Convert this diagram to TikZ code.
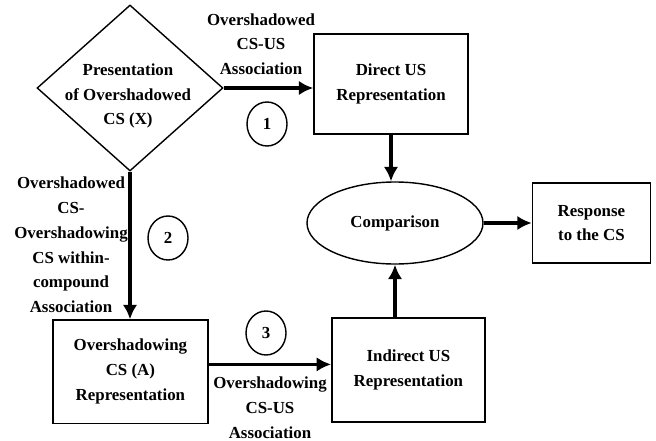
\documentclass[tikz,border=0pt]{standalone}
\usepackage{fontspec}
\setmainfont{Liberation Serif}
\usetikzlibrary{positioning,arrows.meta,shapes.geometric}

\begin{document}
\begin{tikzpicture}[every node/.style={font=\bfseries\fontsize{12}{17.6}\selectfont, align=center, inner sep=0pt},
    box/.style={draw, line width=1pt, rectangle},
    flow/.style={line width=2.2pt, -{Latex[length=3.6mm,width=3.6mm]}},
    numring/.style={draw, line width=1pt, ellipse, minimum width=1cm, minimum height=1.1cm}]
  \useasboundingbox (0,0) rectangle (16.4,-11);
  % stimulus and its two routes
  \node[diamond, draw, line width=1pt, minimum width=4.65cm, minimum height=4.15cm] (present) at (3.25,-2.2) {};
  \node (presenttxt) at (3.2,-2.4) {Presentation\\of Overshadowed\\CS (X)};
  \node[box, minimum width=3.85cm, minimum height=2.5cm] (direct) at (9.775,-2.1) {Direct US\\Representation};
  \node[box, minimum width=3.88cm, minimum height=2.58cm] (oshadow) at (3.26,-9.29) {Overshadowing\\CS (A)\\Representation};
  \node[box, minimum width=3.83cm, minimum height=2.6cm] (indirect) at (10.21,-9.25) {Indirect US\\Representation};
  \node[draw, line width=1pt, ellipse, minimum width=4.4cm, minimum height=2.05cm] (compare) at (9.875,-5.575) {Comparison};
  \node[box, minimum width=2.95cm, minimum height=2cm, right=1.2cm of compare] (response) {Response\\to the CS};
  % arrows
  \draw[flow] (present.east) -- (present.east -| direct.west);
  \draw[flow] (direct.south) -- (direct.south |- compare.north);
  \draw[flow] (present.south) -- (present.south |- oshadow.north);
  \draw[flow] ([yshift=.18cm]oshadow.east) -- ([yshift=.18cm]oshadow.east -| indirect.west);
  \draw[flow] (compare.south |- indirect.north) -- (compare.south);
  \draw[flow] (compare.east) -- (compare.east -| response.west);
  % labels and numbers
  \node (lblone) at (6.525,-1.1) {Overshadowed\\CS-US\\Association};
  \node (lbltwo) at (1.775,-6.125) {Overshadowed\\CS-\\Overshadowing\\CS within-\\compound\\Association};
  \node (lblthree) at (6.75,-10.19) {Overshadowing\\CS-US\\Association};
  \node[numring] (one) at (6.675,-3.1) {1};
  \node[numring] (two) at (4.2,-5.95) {2};
  \node[numring] (three) at (6.65,-8.325) {3};
\end{tikzpicture}
\end{document}
